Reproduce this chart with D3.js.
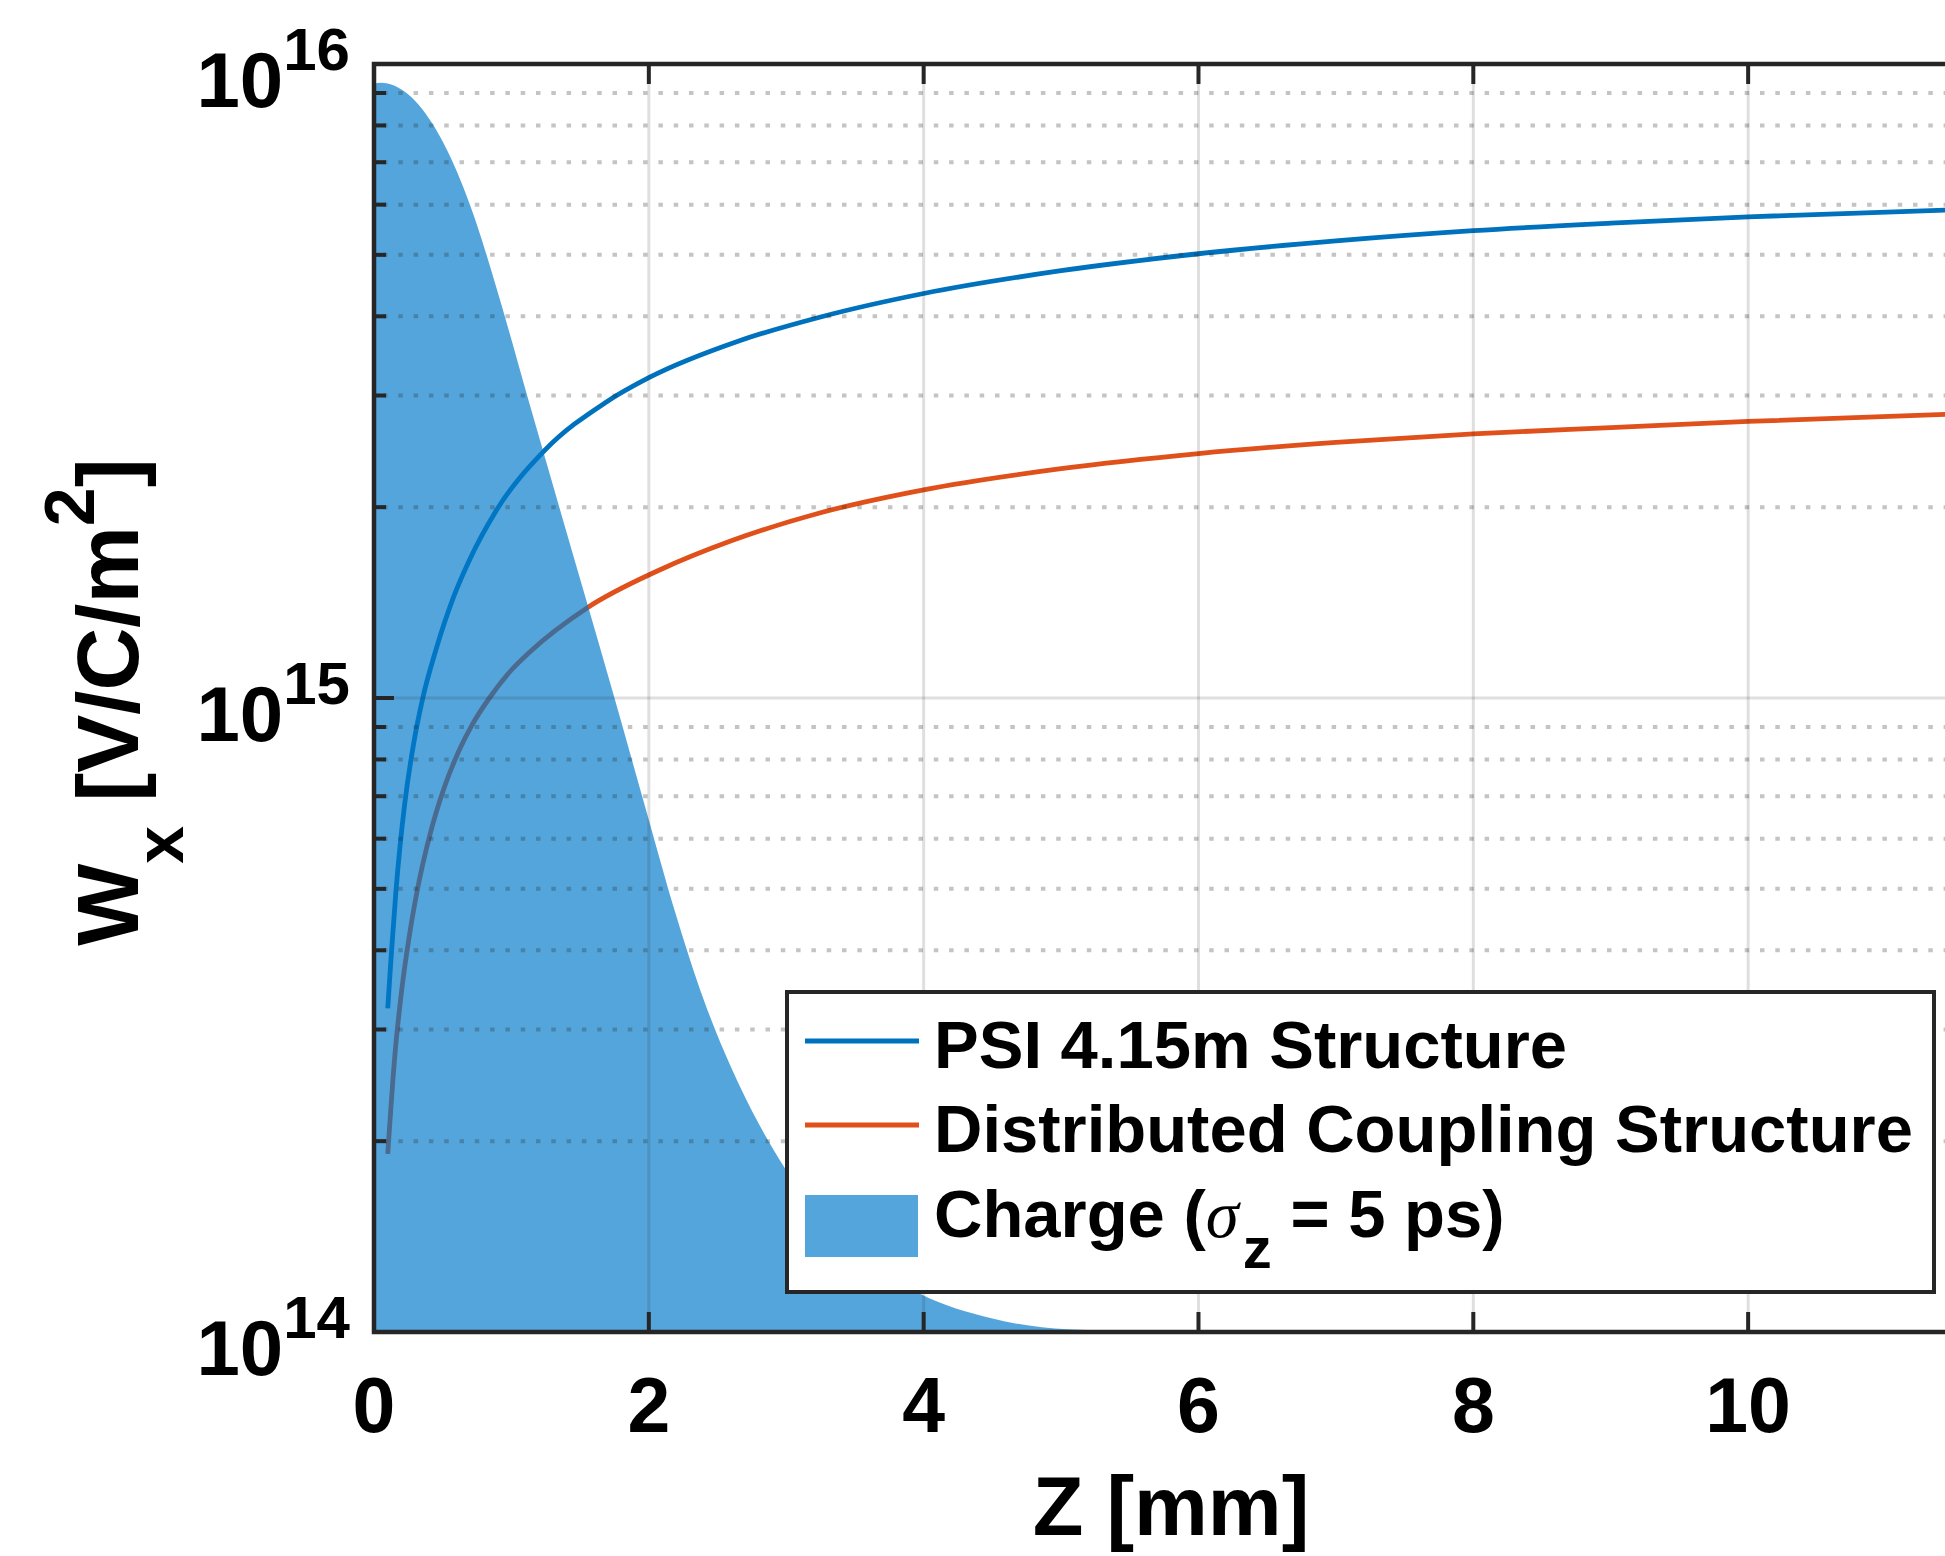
<!DOCTYPE html>
<html>
<head>
<meta charset="utf-8">
<script src="https://cdn.jsdelivr.net/npm/d3@7"></script>
<style>
  html, body { margin: 0; padding: 0; background: #ffffff; }
  svg { display: block; }
  text { font-family: "Liberation Sans", Arial, Helvetica, sans-serif; font-weight: bold; fill: #000; }
</style>
</head>
<body>
<svg id="chart" width="1945" height="1556"></svg>
<script>
// ---------------- data ----------------
const xDomain = [0, 11.6];
const yDomain = [1e14, 1e16];
const xTicks = [0, 2, 4, 6, 8, 10];
const yTickExps = [14, 15, 16];
const yMinorMant = [2, 3, 4, 5, 6, 7, 8, 9];

// PSI 4.15m Structure
const psiZ = [0.10, 0.124, 0.16, 0.19, 0.225, 0.29, 0.355, 0.45, 0.58, 0.70, 0.88, 1.24, 1.68, 2.0, 2.66, 3.25, 4.0, 5.0, 6.0, 7.0, 8.0, 9.0, 10.0, 11.6];
const psiW = [3.24e14, 3.89e14, 4.97e14, 5.86e14, 6.85e14, 8.51e14, 1.0e15, 1.19e15, 1.445e15, 1.66e15, 1.96e15, 2.455e15, 2.92e15, 3.20e15, 3.66e15, 3.99e15, 4.345e15, 4.72e15, 5.02e15, 5.26e15, 5.46e15, 5.61e15, 5.74e15, 5.90e15];

// Distributed Coupling Structure
const dcsZ = [0.10, 0.153, 0.20, 0.255, 0.31, 0.41, 0.51, 0.63, 0.71, 0.84, 1.0, 1.13, 1.55, 2.07, 2.6, 3.25, 4.0, 5.0, 6.0, 7.0, 8.0, 9.0, 10.0, 11.6];
const dcsW = [1.91e14, 2.75e14, 3.44e14, 4.19e14, 4.91e14, 6.12e14, 7.21e14, 8.36e14, 9.04e14, 1.0e15, 1.107e15, 1.18e15, 1.387e15, 1.589e15, 1.77e15, 1.96e15, 2.13e15, 2.30e15, 2.43e15, 2.53e15, 2.61e15, 2.67e15, 2.73e15, 2.81e15];

// Charge (sigma_z = 5 ps), drawn as an area on the log axis
const chargeZ = [0, 0.05, 0.15, 0.25, 0.35, 0.45, 0.55, 0.65, 0.75, 0.88, 1.13, 1.36, 1.75, 2.0, 2.2, 2.4, 2.6, 2.8, 3.0, 3.4, 3.97, 4.5, 5.05, 6.0, 11.6];
const chargeQ = [9.31e15, 9.34e15, 9.24e15, 8.95e15, 8.49e15, 7.89e15, 7.18e15, 6.39e15, 5.57e15, 4.52e15, 2.92e15, 1.96e15, 1.0e15, 6.42e14, 4.53e14, 3.34e14, 2.61e14, 2.13e14, 1.80e14, 1.40e14, 1.15e14, 1.05e14, 1.01e14, 1.0e14, 1.0e14];

const legendLabels = ["PSI 4.15m Structure", "Distributed Coupling Structure"];

// ---------------- layout ----------------
const M = { left: 374, top: 64, bottom: 1332, right: 1968 };
const colBlue = "#0072BD", colOrange = "#E0501A";
const fillCol = "rgb(0,121,201)", fillOpacity = 0.67;
const axisCol = "#262626";

const svg = d3.select("#chart");
svg.append("rect").attr("width", 1945).attr("height", 1556).attr("fill", "#fff");

const x = d3.scaleLinear().domain(xDomain).range([M.left, M.right]);
const y = d3.scaleLog().domain(yDomain).range([M.bottom, M.top]);

svg.append("defs").append("clipPath").attr("id", "plotclip")
  .append("rect").attr("x", M.left).attr("y", M.top)
  .attr("width", M.right - M.left).attr("height", M.bottom - M.top);

const plot = svg.append("g").attr("clip-path", "url(#plotclip)");

const line = d3.line().x(d => x(d[0])).y(d => y(d[1])).curve(d3.curveMonotoneX);
const psi = psiZ.map((z, i) => [z, psiW[i]]);
const dcs = dcsZ.map((z, i) => [z, dcsW[i]]);
const charge = chargeZ.map((z, i) => [z, chargeQ[i]]);

plot.append("path").datum(psi).attr("d", line)
  .attr("fill", "none").attr("stroke", colBlue).attr("stroke-width", 4.8);
plot.append("path").datum(dcs).attr("d", line)
  .attr("fill", "none").attr("stroke", colOrange).attr("stroke-width", 4.8);

const area = d3.area().x(d => x(d[0])).y0(y(yDomain[0])).y1(d => y(d[1])).curve(d3.curveMonotoneX);
plot.append("path").datum(charge).attr("d", area)
  .attr("fill", fillCol).attr("fill-opacity", fillOpacity).attr("stroke", "none");

// ---------------- grid (on top) ----------------
const grid = svg.append("g").attr("clip-path", "url(#plotclip)");
const minorVals = [];
yTickExps.slice(0, -1).forEach(e => yMinorMant.forEach(m => minorVals.push(m * Math.pow(10, e))));
grid.selectAll("line.minor").data(minorVals).enter().append("line")
  .attr("x1", M.left + 9).attr("x2", M.right)
  .attr("y1", d => y(d)).attr("y2", d => y(d))
  .attr("stroke", "rgba(38,38,38,0.27)").attr("stroke-width", 4)
  .attr("stroke-dasharray", "4.5 10.8");
grid.selectAll("line.majy").data(yTickExps.map(e => Math.pow(10, e))).enter().append("line")
  .attr("x1", M.left).attr("x2", M.right)
  .attr("y1", d => y(d)).attr("y2", d => y(d))
  .attr("stroke", "rgba(38,38,38,0.15)").attr("stroke-width", 3);
grid.selectAll("line.majx").data(xTicks).enter().append("line")
  .attr("x1", d => x(d)).attr("x2", d => x(d))
  .attr("y1", M.top).attr("y2", M.bottom)
  .attr("stroke", "rgba(38,38,38,0.15)").attr("stroke-width", 3);

// ---------------- ticks ----------------
const ticks = svg.append("g").attr("stroke", axisCol).attr("stroke-width", 4);
xTicks.forEach(t => {
  ticks.append("line").attr("x1", x(t)).attr("x2", x(t)).attr("y1", M.bottom).attr("y2", M.bottom - 20);
  ticks.append("line").attr("x1", x(t)).attr("x2", x(t)).attr("y1", M.top).attr("y2", M.top + 20);
});
yTickExps.forEach(e => {
  const v = Math.pow(10, e);
  ticks.append("line").attr("x1", M.left).attr("x2", M.left + 20).attr("y1", y(v)).attr("y2", y(v));
});
minorVals.forEach(v => {
  ticks.append("line").attr("x1", M.left).attr("x2", M.left + 12).attr("y1", y(v)).attr("y2", y(v));
});

// axes box
svg.append("rect").attr("x", M.left).attr("y", M.top)
  .attr("width", M.right - M.left).attr("height", M.bottom - M.top)
  .attr("fill", "none").attr("stroke", axisCol).attr("stroke-width", 4.5);

// ---------------- tick labels ----------------
svg.append("g").selectAll("text").data(xTicks).enter().append("text")
  .attr("x", d => x(d)).attr("y", 1432)
  .attr("text-anchor", "middle").attr("font-size", 77).attr("fill", axisCol)
  .text(d => d);

const yl = svg.append("g").selectAll("text").data(yTickExps).enter().append("text")
  .attr("x", 350).attr("y", d => y(Math.pow(10, d)) + 43)
  .attr("text-anchor", "end");
yl.append("tspan").attr("font-size", 78).text("10");
yl.append("tspan").attr("font-size", 60).attr("dy", -37).text(d => d);

// ---------------- axis labels ----------------
svg.append("text").attr("x", (M.left + M.right) / 2).attr("y", 1535)
  .attr("text-anchor", "middle").attr("font-size", 83).attr("fill", axisCol)
  .text("Z [mm]");

const ylab = svg.append("text").attr("transform", "translate(138,702) rotate(-90)")
  .attr("text-anchor", "middle").attr("font-size", 87);
ylab.append("tspan").text("W");
ylab.append("tspan").attr("font-size", 68).attr("dy", 45).text("x");
ylab.append("tspan").attr("dy", -45).text(" [V/C/m");
ylab.append("tspan").attr("font-size", 70).attr("dy", -44).text("2");
ylab.append("tspan").attr("dy", 44).text("]");

// ---------------- legend ----------------
const lg = svg.append("g");
lg.append("rect").attr("x", 787).attr("y", 992).attr("width", 1147).attr("height", 300)
  .attr("fill", "#fff").attr("stroke", axisCol).attr("stroke-width", 4);
const lineRows = [1041, 1125];
[colBlue, colOrange].forEach((c, i) => {
  lg.append("line").attr("x1", 805).attr("x2", 919).attr("y1", lineRows[i]).attr("y2", lineRows[i])
    .attr("stroke", c).attr("stroke-width", 4.8);
  lg.append("text").attr("x", 934).attr("y", lineRows[i] + 27).attr("font-size", 67).text(legendLabels[i]);
});
lg.append("rect").attr("x", 805).attr("y", 1195).attr("width", 113).attr("height", 62)
  .attr("fill", fillCol).attr("fill-opacity", fillOpacity);
const ct = lg.append("text").attr("x", 934).attr("y", 1237).attr("font-size", 67);
ct.append("tspan").text("Charge (");
ct.append("tspan").attr("font-family", "'Liberation Serif', 'Times New Roman', serif")
  .attr("font-style", "italic").attr("font-weight", "normal").text("σ");
ct.append("tspan").attr("font-size", 58).attr("dy", 31).attr("dx", 4).text("z");
ct.append("tspan").attr("dy", -31).text(" = 5 ps)");
</script>
</body>
</html>
